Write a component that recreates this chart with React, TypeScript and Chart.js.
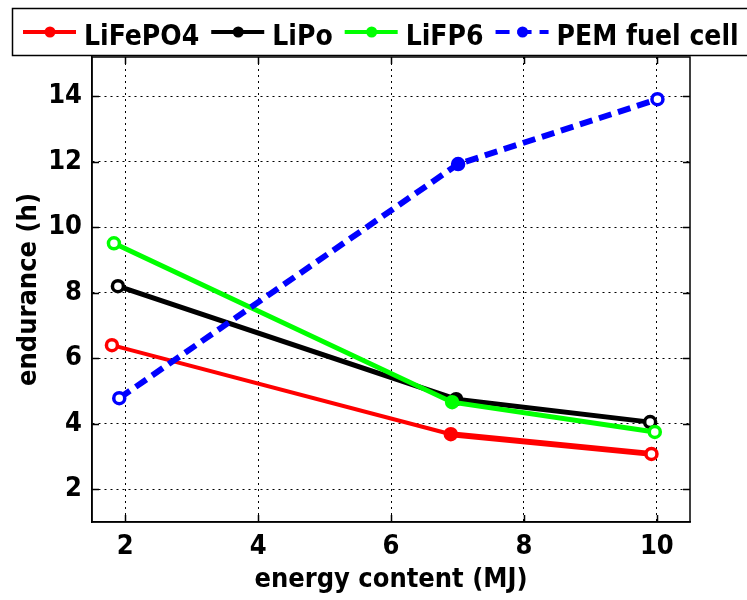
import React, { useEffect, useRef } from "react";
import { Chart, registerables } from "chart.js";

Chart.register(...registerables);

const seriesNames = ["LiFePO4", "LiPo", "LiFP6", "PEM fuel cell"];
const seriesColors = ["#ff0000", "#000000", "#00ff00", "#0000ff"];

const lifepo4Energy = [1.8, 6.9, 9.92];
const lifepo4Endurance = [6.4, 3.68, 3.08];
const lipoEnergy = [1.89, 6.98, 9.9];
const lipoEndurance = [8.2, 4.75, 4.05];
const lifp6Energy = [1.83, 6.92, 9.97];
const lifp6Endurance = [9.51, 4.66, 3.75];
const pemEnergy = [1.91, 7.01, 10.01];
const pemEndurance = [4.78, 11.93, 13.91];

const xTicks = [2, 4, 6, 8, 10];
const yTicks = [2, 4, 6, 8, 10, 12, 14];

const FONT = "'DejaVu Sans Condensed', 'DejaVu Sans', sans-serif";

const toPts = (xs: number[], ys: number[]) => xs.map((x, i) => ({ x, y: ys[i] }));

const framePlugin = {
  id: "frameLegend",
  afterDraw(chart: any) {
    const ctx: CanvasRenderingContext2D = chart.ctx;
    const { left, right, top, bottom } = chart.chartArea;
    const xs = chart.scales.x;
    const ys = chart.scales.y;
    ctx.save();
    ctx.setLineDash([]);
    ctx.strokeStyle = "#000";
    ctx.lineWidth = 1.5;
    ctx.strokeRect(left, top, right - left, bottom - top);
    ctx.beginPath();
    xs.ticks.forEach((t: any) => {
      const px = Math.round(xs.getPixelForValue(t.value)) + 0.5;
      ctx.moveTo(px, bottom);
      ctx.lineTo(px, bottom - 7);
      ctx.moveTo(px, top);
      ctx.lineTo(px, top + 7);
    });
    ys.ticks.forEach((t: any) => {
      const py = Math.round(ys.getPixelForValue(t.value)) + 0.5;
      ctx.moveTo(left, py);
      ctx.lineTo(left + 7, py);
      ctx.moveTo(right, py);
      ctx.lineTo(right - 7, py);
    });
    ctx.stroke();

    // legend
    ctx.fillStyle = "#fff";
    ctx.fillRect(12, 8, 740, 48);
    ctx.lineWidth = 1.5;
    ctx.strokeStyle = "#000";
    ctx.strokeRect(12.5, 8.5, 740, 47);
    ctx.font = `bold 28px ${FONT}`;
    ctx.textBaseline = "alphabetic";
    ctx.textAlign = "left";
    const lineStarts = [23];
    let x = 23;
    const ly = 32;
    seriesNames.forEach((name, i) => {
      const c = seriesColors[i];
      ctx.strokeStyle = c;
      ctx.lineWidth = 4;
      ctx.setLineDash(i === 3 ? [14, 8] : []);
      ctx.beginPath();
      ctx.moveTo(x, ly);
      ctx.lineTo(x + 53, ly);
      ctx.stroke();
      ctx.setLineDash([]);
      ctx.fillStyle = c;
      ctx.beginPath();
      ctx.arc(x + 27, ly, 5.5, 0, Math.PI * 2);
      ctx.fill();
      ctx.fillStyle = "#000";
      ctx.fillText(name, x + 61, 45);
      x = x + 61 + ctx.measureText(name).width + 12;
      lineStarts.push(x);
    });
    ctx.restore();
  },
};

export default function App() {
  const ref = useRef<HTMLCanvasElement | null>(null);
  useEffect(() => {
    if (!ref.current) return;
    const mk = (
      i: number,
      xs: number[],
      ys: number[],
      widths: number[],
      dash: number[],
      order: number
    ) => ({
      label: seriesNames[i],
      data: toPts(xs, ys),
      showLine: true,
      borderColor: seriesColors[i],
      backgroundColor: seriesColors[i],
      borderWidth: widths[0],
      borderDash: dash,
      segment: {
        borderWidth: (c: any) => widths[c.p0DataIndex] ?? widths[0],
      },
      pointRadius: 5.5,
      pointBorderWidth: 3.5,
      pointBorderColor: seriesColors[i],
      pointBackgroundColor: ["#fff", seriesColors[i], "#fff"],
      order,
    });
    const chart = new Chart(ref.current, {
      type: "scatter",
      data: {
        datasets: [
          mk(0, lifepo4Energy, lifepo4Endurance, [4, 6], [], 3),
          mk(1, lipoEnergy, lipoEndurance, [5, 5], [], 2),
          mk(2, lifp6Energy, lifp6Endurance, [5, 5], [], 1),
          mk(3, pemEnergy, pemEndurance, [6, 6], [13, 7], 0),
        ] as any,
      },
      options: {
        animation: false,
        responsive: false,
        devicePixelRatio: 1,
        layout: { padding: { left: 0, top: 57, right: 57, bottom: 0 } },
        plugins: { legend: { display: false }, tooltip: { enabled: false } },
        scales: {
          x: {
            type: "linear",
            min: 1.5,
            max: 10.5,
            afterBuildTicks: (s: any) => {
              s.ticks = xTicks.map((v) => ({ value: v }));
            },
            afterFit: (s: any) => {
              s.height = 78;
            },
            grid: { color: "#000", lineWidth: 1, drawTicks: false },
            border: { display: true, color: "#000", width: 1.5, dash: [2, 4] },
            ticks: {
              color: "#000",
              padding: 9,
              font: { family: FONT, size: 27, weight: "bold" },
            },
            title: {
              display: true,
              text: "energy content (MJ)",
              color: "#000",
              font: { family: FONT, size: 27, weight: "bold" },
              padding: { top: 0, bottom: 4 },
            },
          },
          y: {
            type: "linear",
            min: 1,
            max: 15.2,
            afterBuildTicks: (s: any) => {
              s.ticks = yTicks.map((v) => ({ value: v }));
            },
            afterFit: (s: any) => {
              s.width = 92;
            },
            grid: { color: "#000", lineWidth: 1, drawTicks: false },
            border: { display: true, color: "#000", width: 1.5, dash: [2, 4] },
            ticks: {
              color: "#000",
              padding: 10,
              font: { family: FONT, size: 27, weight: "bold" },
            },
            title: {
              display: true,
              text: "endurance (h)",
              color: "#000",
              font: { family: FONT, size: 27, weight: "bold" },
              padding: { top: 13, bottom: 0 },
            },
          },
        },
      } as any,
      plugins: [framePlugin],
    });
    return () => chart.destroy();
  }, []);
  return (
    <div style={{ position: "absolute", left: 0, top: 0, width: 747, height: 600, background: "#fff" }}>
      <canvas ref={ref} width={747} height={600} style={{ display: "block" }} />
    </div>
  );
}
